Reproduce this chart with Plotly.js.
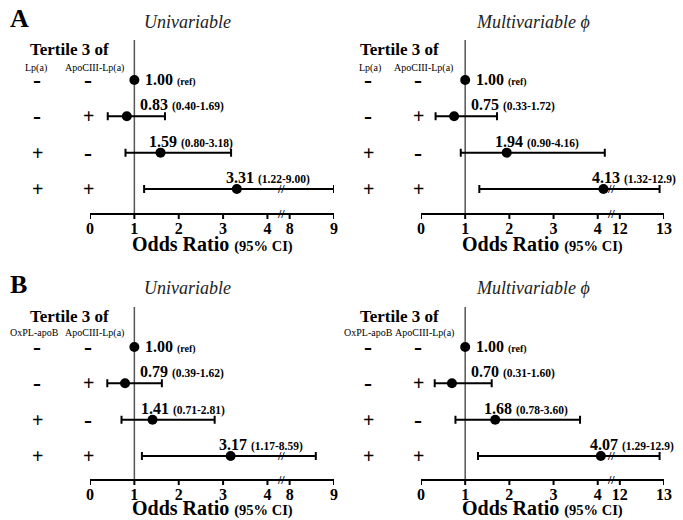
<!DOCTYPE html>
<html><head><meta charset="utf-8">
<script src="https://cdn.plot.ly/plotly-3.0.1.min.js"></script>
<style>body{margin:0;background:#fff}</style>
</head><body><div id="chart" style="width:683px;height:520px"></div>
<script>
// ---- data ----
const rowY = [4, 3, 2, 1];
const lpSigns = ['-', '-', '+', '+'];
const oxplSigns = ['-', '-', '+', '+'];
const apoSigns = ['-', '+', '-', '+'];

const aUniEst = [1.00, 0.83, 1.59, 3.31];
const aUniLo = [null, 0.40, 0.80, 1.22];
const aUniHi = [null, 1.69, 3.18, 9.00];

const aMultiEst = [1.00, 0.75, 1.94, 4.13];
const aMultiLo = [null, 0.33, 0.90, 1.32];
const aMultiHi = [null, 1.72, 4.16, 12.9];

const bUniEst = [1.00, 0.79, 1.41, 3.17];
const bUniLo = [null, 0.39, 0.71, 1.17];
const bUniHi = [null, 1.62, 2.81, 8.59];

const bMultiEst = [1.00, 0.70, 1.68, 4.07];
const bMultiLo = [null, 0.31, 0.78, 1.29];
const bMultiHi = [null, 1.60, 3.60, 12.9];

const uniTicks = [0, 1, 2, 3, 4, 8, 9];
const multiTicks = [0, 1, 2, 3, 4, 12, 13];

// ---- helpers ----
const W = 683, H = 520;
const SERIF = 'Liberation Serif, Times New Roman, serif';
const BREAK_AT = 4.5;   // start of the compressed part of the axis
const BREAK_MARK = 4.3; // where the // is drawn (display units)
function brk(v, shift) { return v == null ? null : (v > BREAK_AT ? v - shift : v); }
function fmt(v) { return v >= 10 ? v.toFixed(1) : v.toFixed(2); }
const px = x => x / W;
const py = y => 1 - y / H;

const panels = [
  { est: aUniEst, lo: aUniLo, hi: aUniHi, ticks: uniTicks, shift: 3.5, xa: 'x', ya: 'y',
    xdom: [90, 334], ydom: [40, 214], yr: [0.312, 5.10], title: 'Univariable', titleX: 187, titleY: 22,
    col1: 37, col2: 88, h1: 'Lp(a)', h1x: 36, h2x: 94, tertX: 69, tertY: 4.83, hY: 4.33, signs1: lpSigns, orY: 244 },
  { est: aMultiEst, lo: aMultiLo, hi: aMultiHi, ticks: multiTicks, shift: 7.5, xa: 'x2', ya: 'y2',
    xdom: [421, 664], ydom: [40, 214], yr: [0.312, 5.10], title: 'Multivariable \u03D5', titleX: 533, titleY: 22,
    col1: 368, col2: 418, h1: 'Lp(a)', h1x: 370, h2x: 423, tertX: 399, tertY: 4.83, hY: 4.33, signs1: lpSigns, orY: 244 },
  { est: bUniEst, lo: bUniLo, hi: bUniHi, ticks: uniTicks, shift: 3.5, xa: 'x3', ya: 'y3',
    xdom: [90, 334], ydom: [307, 480], yr: [0.34, 5.10], title: 'Univariable', titleX: 187, titleY: 288,
    col1: 37, col2: 88, h1: 'OxPL-apoB', h1x: 34, h2x: 94, tertX: 69, tertY: 4.85, hY: 4.39, signs1: oxplSigns, orY: 508 },
  { est: bMultiEst, lo: bMultiLo, hi: bMultiHi, ticks: multiTicks, shift: 7.5, xa: 'x4', ya: 'y4',
    xdom: [421, 664], ydom: [307, 480], yr: [0.34, 5.10], title: 'Multivariable \u03D5', titleX: 533, titleY: 288,
    col1: 368, col2: 418, h1: 'OxPL-apoB', h1x: 368, h2x: 424, tertX: 399, tertY: 4.85, hY: 4.39, signs1: oxplSigns, orY: 508 }
];

const data = [], shapes = [], annotations = [];
const layout = {
  width: W, height: H, margin: { l: 0, r: 0, t: 0, b: 0 },
  paper_bgcolor: '#fff', plot_bgcolor: 'rgba(0,0,0,0)', showlegend: false,
  font: { family: SERIF, color: '#000' }
};

function signText(s) { return s === '-' ? '<b><span style="font-size:24px">-</span></b>' : '<b>+</b>'; }

panels.forEach((p, k) => {
  const xs = p.est.map(v => brk(v, p.shift));
  data.push({
    type: 'scatter', mode: 'markers', x: xs, y: rowY, xaxis: p.xa, yaxis: p.ya,
    marker: { color: '#000', size: 10 }, cliponaxis: false, hoverinfo: 'skip',
    error_x: {
      type: 'data', symmetric: false,
      array: p.hi.map((h, i) => h == null ? null : brk(h, p.shift) - xs[i]),
      arrayminus: p.lo.map((l, i) => l == null ? null : xs[i] - brk(l, p.shift)),
      color: '#000', thickness: 2, width: 4
    }
  });
  const xn = 'xaxis' + (k ? k + 1 : ''), yn = 'yaxis' + (k ? k + 1 : '');
  const tv = p.ticks.map(t => brk(t, p.shift));
  layout[xn] = {
    domain: [px(p.xdom[0]), px(p.xdom[1])], range: [0, 5.5], anchor: p.ya, side: 'bottom',
    tickmode: 'array', tickvals: tv, ticktext: p.ticks.map(String),
    showline: false, ticks: '', ticklabelstandoff: 3,
    showgrid: false, zeroline: false, fixedrange: true,
    tickfont: { family: SERIF, size: 16, color: '#000', weight: 'bold' }
  };
  layout[yn] = {
    domain: [py(p.ydom[1]), py(p.ydom[0])], range: p.yr, anchor: p.xa,
    showticklabels: false, showline: false, ticks: '', showgrid: false, zeroline: false, fixedrange: true
  };
  // axis line and tick marks
  shapes.push({ type: 'line', xref: p.xa + ' domain', yref: p.ya + ' domain', x0: 0, x1: 1, y0: 0, y1: 0,
    line: { color: '#000', width: 2 } });
  tv.forEach(t => shapes.push({ type: 'line', xref: p.xa, yref: p.ya + ' domain', x0: t, x1: t,
    ysizemode: 'pixel', yanchor: 0, y0: 0, y1: -5, line: { color: '#000', width: 2 } }));
  // reference line at OR = 1
  shapes.push({ type: 'line', xref: p.xa, yref: p.ya + ' domain', x0: 1, x1: 1, y0: 0, y1: 1,
    line: { color: '#555', width: 1.5 }, layer: 'below' });
  // panel title
  annotations.push({ xref: 'paper', yref: 'paper', x: px(p.titleX), y: py(p.titleY), xanchor: 'center', yanchor: 'middle',
    text: '<i>' + p.title + '</i>', showarrow: false, font: { family: SERIF, size: 18, color: '#222' } });
  // tertile header
  annotations.push({ xref: 'paper', yref: p.ya, x: px(p.tertX), y: p.tertY, xanchor: 'center', yanchor: 'middle',
    text: '<b>Tertile 3 of</b>', showarrow: false, font: { family: SERIF, size: 17, color: '#000' } });
  annotations.push({ xref: 'paper', yref: p.ya, x: px(p.h1x), y: p.hY, xanchor: 'center', yanchor: 'middle',
    text: p.h1, showarrow: false, font: { family: SERIF, size: 10, color: '#000' } });
  annotations.push({ xref: 'paper', yref: p.ya, x: px(p.h2x), y: p.hY, xanchor: 'center', yanchor: 'middle',
    text: 'ApoCIII-Lp(a)', showarrow: false, font: { family: SERIF, size: 10, color: '#000' } });
  // signs
  rowY.forEach((yv, i) => {
    annotations.push({ xref: 'paper', yref: p.ya, x: px(p.col1), y: yv, xanchor: 'center', yanchor: 'middle',
      text: signText(p.signs1[i]), showarrow: false, font: { family: SERIF, size: 20, color: '#000' } });
    annotations.push({ xref: 'paper', yref: p.ya, x: px(p.col2), y: yv, xanchor: 'center', yanchor: 'middle',
      text: signText(apoSigns[i]), showarrow: false, font: { family: SERIF, size: 20, color: '#000' } });
  });
  // value labels
  p.est.forEach((e, i) => {
    if (p.lo[i] == null) {
      annotations.push({ xref: p.xa, yref: p.ya, x: xs[i] + 0.19, y: rowY[i], xanchor: 'left', yanchor: 'middle',
        text: '<b>' + fmt(e) + '</b> <b><span style="font-size:10px">(ref)</span></b>', showarrow: false,
        font: { family: SERIF, size: 16, color: '#000' } });
    } else {
      annotations.push({ xref: p.xa, yref: p.ya, x: Math.max(xs[i] - 0.3, 1.08), y: rowY[i], xanchor: 'left', yanchor: 'bottom', yshift: 1,
        text: '<b>' + fmt(e) + '</b> <b><span style="font-size:11.5px">(' + fmt(p.lo[i]) + '-' + fmt(p.hi[i]) + ')</span></b>',
        showarrow: false, font: { family: SERIF, size: 16, color: '#000' } });
      if (p.hi[i] > BREAK_AT) {
        annotations.push({ xref: p.xa, yref: p.ya, x: BREAK_MARK, y: rowY[i], xanchor: 'center', yanchor: 'middle',
          text: '<b>//</b>', showarrow: false, font: { family: SERIF, size: 12, color: '#000' } });
      }
    }
  });
  // axis break mark
  annotations.push({ xref: p.xa, yref: 'paper', x: BREAK_MARK, y: py(p.ydom[1]), xanchor: 'center', yanchor: 'middle',
    text: '<b>//</b>', showarrow: false, font: { family: SERIF, size: 12, color: '#000' } });
  // axis title
  annotations.push({ xref: 'paper', yref: 'paper', x: px((p.xdom[0] + p.xdom[1]) / 2), y: py(p.orY), xanchor: 'center', yanchor: 'middle',
    text: '<b>Odds Ratio <span style="font-size:14.5px">(95% CI)</span></b>', showarrow: false,
    font: { family: SERIF, size: 20, color: '#000' } });
});

// panel letters
annotations.push({ xref: 'paper', yref: 'paper', x: px(8), y: py(19), xanchor: 'left', yanchor: 'middle',
  text: '<b>A</b>', showarrow: false, font: { family: SERIF, size: 26, color: '#000' } });
annotations.push({ xref: 'paper', yref: 'paper', x: px(8), y: py(284), xanchor: 'left', yanchor: 'middle',
  text: '<b>B</b>', showarrow: false, font: { family: SERIF, size: 26, color: '#000' } });

layout.shapes = shapes;
layout.annotations = annotations;
Plotly.newPlot('chart', data, layout, { staticPlot: true, displayModeBar: false });
</script></body></html>
